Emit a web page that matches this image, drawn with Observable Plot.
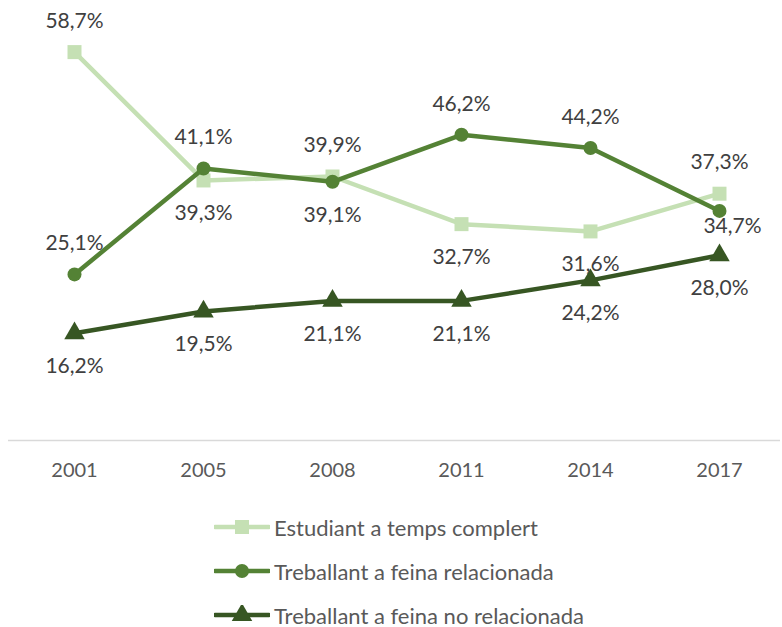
<!DOCTYPE html>
<html>
<head>
<meta charset="utf-8">
<script src="https://cdn.jsdelivr.net/npm/d3@7"></script>
<script src="https://cdn.jsdelivr.net/npm/@observablehq/plot@0.6"></script>
<style>
  html, body { margin: 0; padding: 0; background: #fff; }
  #chart { width: 782px; font-family: Lato, "Open Sans", sans-serif; }
  #legend { padding-top: 15px; }
  .row { height: 44px; display: flex; align-items: center; padding-left: 214px; font-size: 22px; color: #595959; }
  .row svg { margin-right: 4px; }
</style>
</head>
<body>
<div id="chart"></div>
<script>
const years = ["2001", "2005", "2008", "2011", "2014", "2017"];
const seriesNames = ["Estudiant a temps complert", "Treballant a feina relacionada", "Treballant a feina no relacionada"];
const estudiant = [58.7, 39.3, 39.9, 32.7, 31.6, 37.3];
const relacionada = [25.1, 41.1, 39.1, 46.2, 44.2, 34.7];
const noRelacionada = [16.2, 19.5, 21.1, 21.1, 24.2, 28.0];
// label placement relative to the point
const placeEstudiant = ["above", "below", "above", "below", "below", "above"];
const placeRelacionada = ["above", "above", "below", "above", "above", "belowright"];
const placeNoRel = ["below", "below", "below", "below", "below", "below"];

const colors = ["#c5e0b4", "#548235", "#375623"];
const symbols = ["square", "circle", "triangle"];
const radii = [7.9, 7, 7.6];

const allVals = [estudiant, relacionada, noRelacionada];
const allPlace = [placeEstudiant, placeRelacionada, placeNoRel];
const data = [];
allVals.forEach((vals, s) => vals.forEach((v, i) => data.push({
  series: seriesNames[s], year: years[i], value: v, place: allPlace[s][i]
})));

const fmt = v => v.toFixed(1).replace(".", ",") + "%";
const dyFor = p => p === "above" ? -31 : p === "below" ? 33 : 15;
const dxFor = p => p === "belowright" ? 13 : 0;

const marks = [
  Plot.ruleY([0], {stroke: "#d9d9d9", strokeWidth: 1.5})
];
seriesNames.forEach((name, s) => {
  const d = data.filter(r => r.series === name);
  marks.push(Plot.line(d, {x: "year", y: "value", stroke: colors[s], strokeWidth: 4.5, curve: "linear"}));
  marks.push(Plot.dot(d, {x: "year", y: "value", fill: colors[s], symbol: () => symbols[s], r: radii[s], stroke: "none"}));
});
["above", "below", "belowright"].forEach(p => {
  marks.push(Plot.text(data.filter(r => r.place === p), {
    x: "year", y: "value", text: r => fmt(r.value),
    dy: dyFor(p), dx: dxFor(p), fill: "#404040", fontSize: 21
  }));
});

const plot = Plot.plot({
  width: 782,
  height: 490,
  marginTop: 43,
  marginBottom: 50,
  marginLeft: 8,
  marginRight: 2,
  style: {fontFamily: "Lato, 'Open Sans', sans-serif", fontSize: "20px", color: "#595959", background: "#fff"},
  x: {type: "point", domain: years, range: [73, 720], padding: 0, label: null, tickSize: 0, tickPadding: 22},
  y: {domain: [0, 60], axis: null},
  marks
});
const chart = document.getElementById("chart");
chart.appendChild(plot);

const legend = document.createElement("div");
legend.id = "legend";
seriesNames.forEach((name, s) => {
  const row = document.createElement("div");
  row.className = "row";
  const sw = d3.create("svg").attr("width", 56).attr("height", 20);
  sw.append("line").attr("x1", 1).attr("x2", 55).attr("y1", 10).attr("y2", 10)
    .attr("stroke", colors[s]).attr("stroke-width", 4.5).attr("stroke-linecap", "round");
  const sym = {square: d3.symbolSquare, circle: d3.symbolCircle, triangle: d3.symbolTriangle}[symbols[s]];
  sw.append("path").attr("transform", "translate(28,10)")
    .attr("d", d3.symbol(sym, Math.PI * radii[s] * radii[s])()).attr("fill", colors[s]);
  row.appendChild(sw.node());
  const t = document.createElement("span");
  t.textContent = name;
  row.appendChild(t);
  legend.appendChild(row);
});
chart.appendChild(legend);
</script>
</body>
</html>
